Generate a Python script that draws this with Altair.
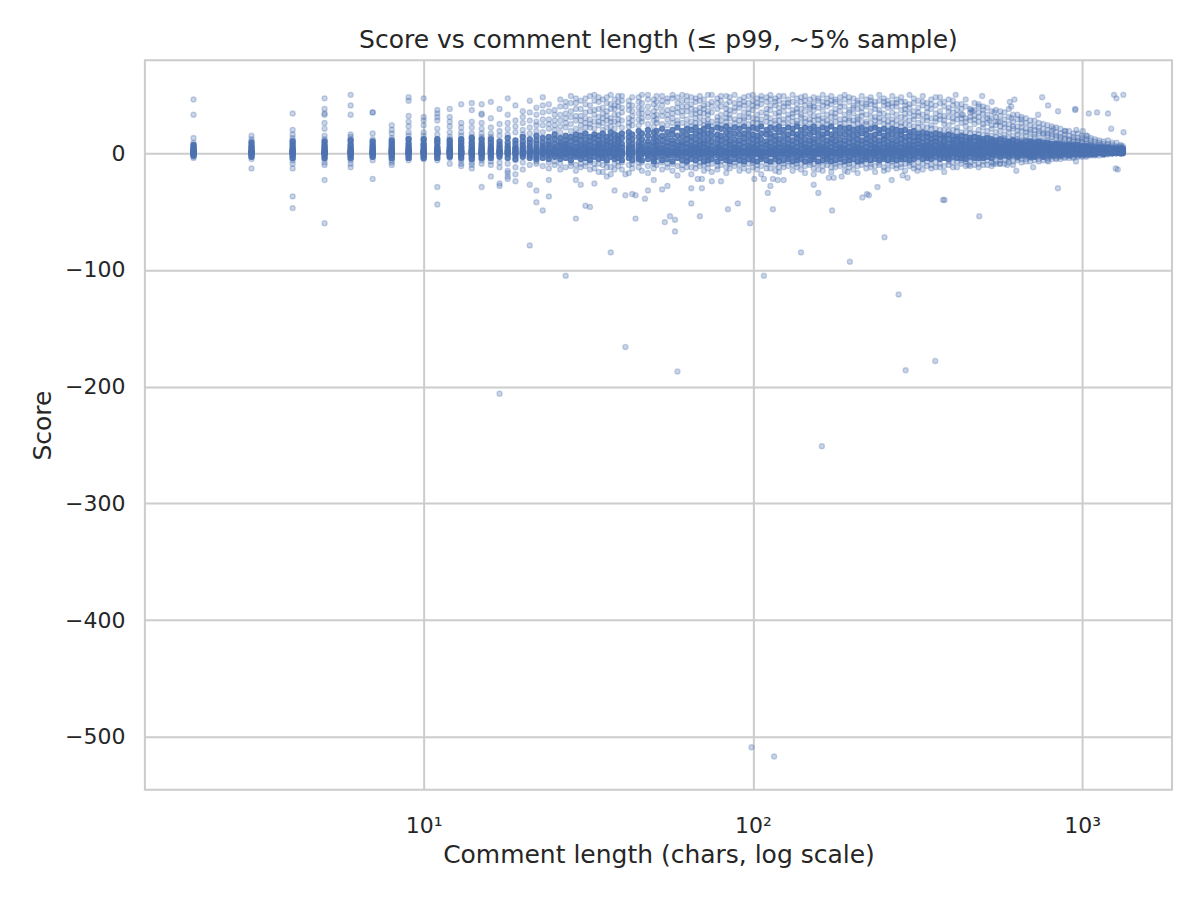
import pandas as pd
import altair as alt

# short comments: one column of scores per length
short_len = [2, 3, 4, 5, 6, 7, 8, 9, 10, 11, 12, 13, 14, 15]
short_core = [
    [7, 5, 3, 2, 1, 1, 0, -1, -2],
    [9, 6, 4, 2, 1, 1, 0, -1, -3],
    [10, 7, 4, 2, 1, 1, 0, -2, -4],
    [10, 7, 5, 3, 1, 1, 0, -1, -4],
    [11, 7, 4, 2, 1, 1, 0, -2, -4],
    [10, 7, 5, 3, 1, 1, 0, -1, -3],
    [11, 8, 5, 3, 2, 1, 0, -2, -4],
    [12, 8, 5, 3, 1, 1, 0, -1, -4],
    [12, 8, 6, 3, 2, 1, 0, -2, -4],
    [12, 9, 5, 3, 1, 1, 0, -1, -4],
    [11, 8, 5, 3, 2, 1, 0, -2, -3],
    [12, 9, 6, 4, 2, 1, 0, -1, -4],
    [13, 9, 6, 3, 2, 1, 0, -2, -5],
    [12, 8, 5, 3, 1, 1, 0, -1, -4],
]
short_scores = [
    [46, 33, 13, 9, 7, 6, 5, 4, 3, 3, 2, 2, 1, 1, 1, 1, 0, 0, -1, -1, -2, -3, -4],
    [15, 12, 10, 8, 6, 5, 4, 3, 2, 2, 1, 1, 1, 1, 0, 0, -1, -2, -3, -5, -13],
    [34, 20, 16, 13, 11, 9, 7, 5, 4, 3, 2, 2, 1, 1, 1, 0, 0, -1, -2, -4, -6, -9, -13, -37, -47],
    [47, 38, 34, 33, 26, 21, 15, 12, 10, 8, 6, 5, 4, 3, 2, 2, 1, 1, 1, 0, 0, -1, -2, -3, -5, -8, -10, -23, -60],
    [50, 41, 33, 16, 14, 12, 10, 8, 6, 5, 4, 3, 2, 2, 1, 1, 1, 0, 0, -1, -2, -4, -6, -9, -12],
    [35, 35, 17, 12, 10, 8, 6, 5, 4, 3, 2, 2, 1, 1, 1, 0, 0, -1, -2, -3, -6, -22],
    [24, 20, 17, 13, 10, 8, 7, 5, 4, 3, 2, 2, 1, 1, 1, 0, 0, -1, -2, -4, -6, -8, -10],
    [48, 45, 32, 27, 23, 18, 15, 12, 10, 8, 6, 5, 4, 3, 2, 2, 1, 1, 1, 0, 0, -1, -2, -3, -4, -6],
    [47, 31, 28, 24, 18, 15, 12, 10, 8, 6, 5, 4, 3, 2, 2, 1, 1, 1, 0, 0, -1, -2, -3, -5],
    [37, 34, 31, 28, 21, 16, 12, 10, 8, 6, 5, 4, 3, 2, 2, 1, 1, 1, 0, 0, -1, -2, -4, -6, -29, -44],
    [38, 31, 27, 23, 18, 14, 12, 10, 8, 6, 5, 4, 3, 2, 2, 1, 1, 1, 0, 0, -1, -2, -4, -9],
    [42, 26, 22, 18, 15, 12, 10, 8, 6, 5, 4, 3, 2, 2, 1, 1, 1, 0, 0, -1, -2, -3, -6, -9, -11],
    [43, 37, 27, 22, 17, 14, 12, 10, 8, 6, 5, 4, 3, 2, 2, 1, 1, 1, 0, 0, -1, -2, -3, -5, -8, -10, -13],
    [42, 34, 33, 26, 21, 17, 14, 11, 9, 7, 6, 5, 4, 3, 2, 2, 1, 1, 1, 0, 0, -1, -2, -4, -6, -9, -29],
]

# longer comments: dense core and the looser spread around it
band_len = [
    16, 17, 18, 19, 20, 21, 22, 23, 24, 25,
    26, 27, 28, 29, 30, 31, 32, 33, 34, 35,
    36, 37, 38, 39, 40, 42, 43, 45, 46, 48,
    50, 51, 53, 55, 57, 59, 61, 63, 65, 67,
    69, 71, 73, 75, 78, 80, 83, 85, 88, 91,
    94, 97, 100, 103, 106, 110, 113, 117, 120, 124,
    128, 132, 136, 140, 144, 149, 153, 158, 163, 168,
    173, 178, 184, 190, 196, 202, 208, 214, 221, 228,
    235, 242, 250, 257, 265, 273, 282, 290, 299, 308,
    318, 328, 338, 348, 359, 370, 381, 393, 405, 417,
    430, 443, 457, 471, 485, 500, 515, 531, 547, 564,
    581, 599, 617, 636, 655, 675, 696, 717, 739, 762,
    785, 809, 834, 859, 886, 913, 941, 970, 1000, 1030,
    1062, 1094, 1128, 1162, 1198, 1234, 1272, 1310, 1330,
]
band_core = [
    [12, 9, 6, 4, 3, 2, 1, 1, 0, -2, -4], [10, 7, 5, 3, 2, 1, 1, 0, -1, -3],
    [13, 9, 6, 4, 2, 2, 1, 0, -1, -4], [11, 8, 5, 4, 3, 1, 1, 0, -2, -5],
    [14, 10, 7, 5, 3, 2, 1, 0, -1, -3], [12, 9, 6, 4, 2, 1, 1, 0, -2, -4],
    [15, 11, 8, 5, 3, 2, 1, 0, -1, -3, -5], [13, 9, 6, 4, 3, 1, 0, -1, -4],
    [14, 10, 7, 5, 2, 1, 1, 0, -2, -5], [16, 12, 8, 5, 3, 2, 1, 0, -1, -3],
    [13, 9, 7, 4, 2, 1, 0, -2, -5], [15, 11, 8, 6, 3, 2, 1, 0, -1, -4],
    [14, 10, 6, 4, 3, 1, 0, -2, -6], [16, 12, 9, 5, 3, 2, 1, 0, -1, -3],
    [15, 11, 7, 5, 2, 1, 0, -2, -5], [17, 12, 8, 6, 3, 2, 1, 0, -1, -4],
    [14, 10, 7, 4, 2, 1, 0, -2, -6], [16, 13, 9, 5, 3, 2, 1, 0, -3],
    [15, 11, 8, 6, 4, 2, 1, 0, -1, -5], [17, 12, 7, 5, 3, 1, 0, -2, -4],
    [14, 10, 8, 4, 2, 1, 0, -1, -6], [18, 13, 9, 6, 3, 2, 1, 0, -3],
    [16, 11, 7, 5, 3, 1, 0, -2, -5], [15, 12, 9, 6, 4, 2, 1, 0, -1, -4],
    [17, 13, 8, 5, 2, 1, 0, -2, -6], [18, 14, 10, 6, 4, 2, 1, 0, -1, -4],
    [16, 12, 8, 5, 3, 1, 0, -2, -6], [19, 14, 9, 6, 3, 2, 1, 0, -3, -5],
    [17, 12, 8, 5, 4, 2, 0, -1, -6], [20, 15, 10, 7, 4, 2, 1, 0, -2, -5],
    [18, 13, 9, 6, 3, 1, 0, -1, -4, -7], [19, 14, 10, 7, 4, 2, 1, 0, -3],
    [21, 15, 11, 7, 4, 2, 1, 0, -2, -6], [18, 13, 9, 6, 3, 1, 0, -1, -5],
    [20, 16, 11, 8, 5, 2, 1, 0, -2, -7], [22, 15, 10, 6, 4, 2, 0, -1, -4],
    [19, 14, 9, 7, 3, 1, 0, -2, -6], [21, 16, 12, 8, 5, 2, 1, 0, -3, -7],
    [20, 14, 10, 6, 4, 2, 0, -1, -5], [22, 17, 12, 8, 5, 3, 1, 0, -2, -6],
    [19, 15, 10, 7, 4, 2, 1, -1, -4], [21, 16, 11, 8, 5, 2, 0, -2, -7],
    [23, 17, 12, 7, 4, 2, 1, 0, -3, -6], [20, 15, 10, 6, 3, 1, 0, -1, -5],
    [22, 16, 12, 8, 5, 3, 1, 0, -2, -7], [21, 15, 11, 7, 4, 2, 0, -1, -4],
    [23, 18, 13, 9, 5, 2, 1, 0, -3, -6], [20, 15, 10, 7, 4, 1, 0, -2, -7],
    [22, 17, 12, 8, 5, 3, 1, 0, -1, -5], [21, 16, 11, 7, 4, 2, 0, -2, -6],
    [23, 17, 13, 9, 5, 2, 1, 0, -3, -7], [20, 15, 10, 6, 4, 2, 0, -1, -5],
    [22, 16, 12, 8, 5, 3, 1, 0, -2, -6], [21, 15, 11, 7, 4, 2, 0, -1, -7],
    [23, 17, 12, 8, 5, 2, 1, 0, -3, -5], [20, 16, 10, 7, 4, 1, 0, -2, -6],
    [22, 17, 13, 9, 5, 3, 1, 0, -1, -7], [21, 15, 11, 7, 4, 2, 0, -2, -5],
    [23, 18, 12, 8, 5, 2, 1, 0, -3, -7], [20, 15, 10, 6, 4, 1, 0, -1, -6],
    [22, 16, 12, 8, 5, 3, 1, 0, -2, -5], [21, 17, 11, 7, 4, 2, 0, -2, -7],
    [23, 16, 13, 9, 5, 2, 1, 0, -3, -6], [20, 15, 10, 7, 4, 1, 0, -1, -5],
    [22, 17, 12, 8, 5, 3, 1, 0, -2, -7], [21, 16, 11, 7, 4, 2, 0, -2, -6],
    [23, 18, 12, 9, 5, 2, 1, 0, -3, -5], [20, 15, 10, 6, 4, 1, 0, -1, -7],
    [22, 16, 13, 8, 5, 3, 1, 0, -2, -6], [21, 17, 11, 7, 4, 2, 0, -2, -5],
    [23, 16, 12, 9, 5, 2, 1, 0, -3, -7], [20, 15, 10, 7, 4, 1, 0, -1, -6],
    [22, 17, 12, 8, 5, 3, 1, 0, -2, -5], [21, 16, 11, 7, 4, 2, 0, -2, -7],
    [22, 18, 13, 9, 5, 2, 1, 0, -3, -6], [20, 15, 10, 6, 4, 1, 0, -1, -5],
    [21, 16, 12, 8, 5, 3, 1, 0, -2, -7], [22, 17, 11, 7, 4, 2, 0, -2, -6],
    [20, 16, 12, 9, 5, 2, 1, 0, -3, -5], [21, 15, 10, 7, 4, 1, 0, -1, -6],
    [22, 16, 12, 8, 5, 3, 1, 0, -2, -5], [20, 17, 11, 7, 4, 2, 0, -2, -6],
    [21, 15, 12, 8, 5, 2, 1, 0, -3, -5], [19, 15, 10, 6, 4, 1, 0, -1, -6],
    [21, 16, 11, 8, 5, 3, 1, 0, -2, -5], [20, 15, 10, 7, 4, 2, 0, -2, -6],
    [19, 16, 12, 8, 5, 2, 1, 0, -3, -5], [20, 14, 10, 6, 4, 1, 0, -1, -5],
    [18, 15, 11, 7, 5, 3, 1, 0, -2, -6], [19, 14, 10, 7, 4, 2, 0, -2, -5],
    [17, 14, 11, 8, 5, 2, 1, 0, -3], [18, 13, 9, 6, 4, 1, 0, -1, -5],
    [17, 14, 10, 7, 5, 3, 1, 0, -2, -4], [16, 12, 9, 6, 4, 2, 0, -2, -5],
    [17, 13, 10, 7, 4, 2, 1, 0, -3], [16, 12, 8, 6, 3, 1, 0, -1, -5],
    [15, 13, 9, 7, 5, 3, 1, 0, -2, -4], [16, 12, 8, 5, 4, 2, 0, -2, -5],
    [15, 11, 9, 6, 4, 2, 1, 0, -3], [14, 12, 8, 6, 3, 1, 0, -1, -4],
    [15, 11, 9, 7, 5, 3, 1, 0, -2, -4], [14, 10, 8, 5, 4, 2, 0, -2, -5],
    [13, 11, 9, 6, 4, 2, 1, 0, -3], [14, 10, 7, 5, 3, 1, 0, -1, -4],
    [13, 11, 8, 6, 4, 3, 1, 0, -2, -4], [12, 10, 7, 5, 4, 2, 0, -2, -4],
    [13, 9, 8, 6, 4, 2, 1, 0, -3], [12, 10, 7, 5, 3, 1, 0, -1, -4],
    [11, 9, 7, 5, 4, 3, 1, 0, -2], [12, 9, 6, 5, 3, 2, 0, -1, -3],
    [11, 8, 7, 5, 4, 2, 1, 0, -2], [10, 9, 6, 4, 3, 1, 0, -1, -3],
    [11, 8, 6, 5, 4, 2, 1, 0, -2], [10, 7, 6, 4, 3, 2, 0, -1, -3],
    [9, 8, 6, 4, 3, 1, 1, 0, -2], [10, 7, 5, 4, 3, 2, 0, -1, -2],
    [10, 8, 6, 4, 3, 1, 1, 0, -2, -3], [9, 8, 5, 4, 3, 2, 0, -1, -3],
    [10, 7, 6, 4, 2, 1, 1, 0, -2], [9, 7, 5, 3, 2, 2, 0, -1, -3],
    [9, 7, 5, 4, 2, 1, 1, 0, -2], [8, 6, 5, 3, 2, 1, 0, -1, -2],
    [8, 7, 5, 3, 2, 1, 1, 0, -2], [8, 6, 4, 3, 2, 1, 0, 0, -2],
    [7, 6, 5, 3, 2, 1, 1, 0, -1], [7, 6, 4, 3, 2, 1, 0, 0, -2],
    [7, 5, 4, 3, 2, 1, 1, 0, -1], [7, 5, 4, 3, 2, 1, 0, 0, -1],
    [6, 5, 4, 3, 2, 1, 1, 0, -1], [6, 5, 3, 2, 2, 1, 0, 0, -1],
    [6, 4, 3, 3, 2, 1, 1, 0, -1], [5, 4, 3, 2, 1, 1, 0, 0, -1],
    [5, 4, 3, 2, 2, 1, 1, 0], [5, 4, 3, 2, 1, 1, 0, 0, -1],
    [5, 4, 3, 2, 2, 1, 1, 0], [4, 4, 3, 2, 1, 1, 0, 0],
    [4, 3, 3, 2, 1, 1, 1, 0], [4, 3, 2, 2, 1, 1, 0, 0],
    [4, 3, 2, 1, 1, 0],
]
band_spread = [
    [44, 30, 22, 17, 14, -7, -10], [38, 25, 19, 15, -8, -12],
    [47, 33, 26, 21, 16, -9], [41, 28, 23, 18, -6, -12],
    [36, 31, 26, 20, 16, -8, -14], [45, 35, 28, 22, 17, -10],
    [39, 33, 27, 24, 19, -7, -9], [48, 41, 35, 29, 24, 18, -11],
    [42, 36, 29, 25, 21, -8, -13], [37, 33, 28, 24, 20, -10, -7],
    [46, 40, 33, 28, 23, 18, -9, -14], [44, 40, 34, 30, 26, 22, -12],
    [49, 43, 36, 31, 25, 19, -8, -11], [47, 43, 38, 32, 28, 21, -10, -15],
    [45, 38, 32, 28, 24, 19, -9, -12], [47, 42, 35, 30, 26, 22, -11, -8],
    [49, 41, 36, 29, 25, 22, -8, -14], [50, 45, 37, 33, 27, 21, -13, -9],
    [48, 44, 38, 31, 27, 24, -9, -16], [46, 39, 34, 30, 26, 20, -10, -16],
    [48, 43, 36, 32, 28, 22, -8, -12], [50, 42, 38, 30, 27, 23, -12, -18],
    [46, 41, 38, 33, 27, 21, -9, -14], [49, 44, 40, 33, 29, 25, -11, -7],
    [49, 45, 39, 35, 28, 22, -8, -14], [45, 41, 37, 30, 26, 23, -10, -17],
    [48, 41, 36, 32, 28, 24, -9, -13], [48, 44, 39, 34, 29, 24, -12, -8],
    [50, 43, 38, 34, 30, 27, -8, -15], [50, 46, 40, 35, 31, 25, -11, -17],
    [46, 42, 36, 32, 28, 23, -9, -13], [49, 44, 39, 33, 29, 26, -10, -7],
    [49, 45, 41, 36, 32, 25, -8, -14], [47, 44, 37, 33, 29, 24, -12, -9],
    [50, 47, 38, 34, 30, 26, -9, -15], [48, 43, 39, 35, 28, 25, -11, -19],
    [50, 45, 40, 36, 32, 26, -10, -14], [49, 45, 40, 36, 29, 24, -8, -12],
    [48, 42, 38, 33, 27, 23, -12, -18], [47, 44, 37, 34, 30, 26, -9, -13],
    [49, 45, 39, 35, 31, 26, -11, -8], [46, 41, 38, 34, 28, 24, -10, -15],
    [50, 42, 36, 33, 29, 25, -13, -9], [50, 44, 40, 35, 27, 23, -9, -16],
    [47, 43, 38, 31, 28, 25, -11, -14], [49, 45, 40, 33, 28, 24, -10, -7],
    [49, 42, 38, 34, 30, 27, -12, -17], [48, 44, 37, 33, 30, 24, -9, -13],
    [50, 43, 39, 36, 29, 26, -11, -8], [46, 42, 39, 32, 28, 24, -10, -15],
    [48, 44, 41, 35, 30, 28, -13, -9], [49, 43, 38, 34, 31, 25, -9, -15],
    [50, 45, 41, 37, 30, 26, -12, -8], [47, 43, 40, 33, 29, 26, -10, -14],
    [49, 46, 42, 35, 29, 25, -11, -18], [48, 44, 38, 34, 31, 27, -9, -13],
    [50, 46, 41, 37, 30, 26, -13, -8], [47, 44, 41, 34, 28, 25, -10, -15],
    [49, 45, 39, 35, 32, 28, -12, -16], [49, 43, 40, 36, 29, 26, -9, -12],
    [46, 43, 40, 33, 30, 25, -11, -7], [50, 44, 37, 34, 31, 27, -10, -15],
    [47, 42, 38, 35, 28, 25, -12, -9], [48, 44, 38, 33, 31, 26, -9, -14],
    [49, 45, 41, 36, 30, 27, -11, -17], [46, 41, 39, 34, 29, 26, -10, -8],
    [48, 43, 40, 37, 32, 28, -13, -9], [47, 45, 39, 32, 29, 25, -9, -14],
    [50, 44, 41, 36, 30, 27, -11, -15], [47, 43, 40, 33, 28, 25, -10, -7],
    [49, 45, 42, 35, 31, 26, -12, -16], [46, 44, 38, 34, 31, 27, -9, -12],
    [48, 43, 40, 36, 29, 25, -11, -8], [50, 46, 40, 33, 29, 26, -10, -15],
    [48, 44, 37, 35, 30, 28, -12, -9], [47, 41, 39, 34, 28, 25, -9, -14],
    [45, 43, 38, 31, 29, 26, -11, -17], [49, 43, 39, 35, 32, 27, -10, -7],
    [46, 42, 40, 33, 27, 25, -13, -9], [48, 45, 42, 36, 31, 26, -9, -12],
    [44, 41, 38, 31, 28, 24, -11, -16], [50, 45, 37, 34, 30, 27, -10, -8],
    [47, 44, 41, 34, 29, 25, -12, -15], [45, 42, 39, 32, 27, 24, -9, -14],
    [49, 43, 40, 35, 29, 26, -11, -7], [46, 43, 40, 33, 28, 24, -10, -13],
    [48, 44, 37, 31, 26, 23, -12, -9], [44, 41, 38, 34, 30, 25, -9, -15],
    [50, 42, 39, 34, 28, 24, -11, -8], [47, 43, 36, 32, 29, 23, -10, -13],
    [45, 39, 35, 32, 26, 22, -12, -8], [49, 44, 41, 33, 28, 23, -9, -14],
    [43, 39, 35, 31, 28, 22, -11, -7], [46, 42, 38, 30, 24, 21, -10, -13],
    [48, 41, 34, 30, 27, 21, -12, -8], [48, 43, 36, 32, 29, 20, -9, -12],
    [44, 40, 32, 28, 25, 20, -11, -16], [46, 39, 36, 31, 24, 19, -10, -7],
    [45, 41, 35, 30, 27, 20, -8, -12], [42, 37, 33, 29, 22, 19, -12, -7],
    [42, 38, 33, 30, 26, 18, -9, -6], [46, 40, 30, 27, 23, 18, -11, -7],
    [38, 35, 31, 28, 21, 17, -8, -11], [43, 37, 32, 29, 25, 17, -10, -6],
    [40, 35, 31, 27, 20, 16, -9, -12], [40, 34, 29, 25, 22, 16, -7, -10],
    [39, 33, 30, 26, 19, 15, -10, -6], [44, 36, 30, 24, 21, 15, -8, -11],
    [37, 31, 27, 24, 18, 14, -7, -9], [36, 32, 27, 23, 19, 14, -9, -6],
    [35, 29, 25, 22, 16, 13, -6, -9], [38, 31, 25, 21, 18, 13, -8, -5],
    [33, 27, 23, 21, 15, 12, -7, -10], [33, 29, 23, 19, 16, 12, -6, -4],
    [31, 26, 22, 19, 14, 11, -8, -5], [30, 26, 21, 18, 15, 11, -5, -7],
    [28, 24, 20, 18, 13, 10, -7, -4], [28, 23, 20, 16, 14, 10, -6, -3],
    [26, 22, 19, 17, 12, 9, -5, -7], [25, 21, 17, 16, 11, 9, -6, -3],
    [24, 20, 17, 15, 11, 8, -4, -6], [23, 19, 16, 14, 10, 8, -5, -3],
    [22, 18, 15, 13, 9, 7, -4, -5], [21, 17, 14, 12, 9, 7, -5, -3],
    [19, 16, 13, 12, 8, 6, -3, -4], [19, 15, 12, 11, 8, 6, -4, -2],
    [17, 14, 12, 10, 7, 5, -3, -4], [17, 13, 11, 10, 7, 5, -3, -2],
    [15, 13, 10, 9, 6, 5, -2, -3], [15, 12, 10, 8, 6, 4, -3, -2],
    [13, 11, 8, 7, 5, 4, -2], [12, 10, 7, 6, 5, 4, -2],
    [11, 9, 7, 6, 5, -2], [10, 8, 6, 5, 4, -1],
    [11, 8, 6, 5, 4, -1], [9, 7, 5, 4, 3],
    [9, 6, 5, 4, 3], [7, 6, 5, 3],
    [6, 4, 3],
]

# isolated points read one by one
outlier_len = [
    17, 21, 27, 37, 41, 29, 44, 23, 22, 24,
    31, 32, 16, 21, 22, 24, 29, 30, 33, 36,
    38, 41, 43, 44, 47, 48, 41, 18, 18, 18,
    18, 19, 19, 17, 17,
    54, 56, 58, 58, 59, 65, 65, 70, 69, 84,
    90, 98, 108, 115, 111, 113, 140, 158, 153, 174,
    197, 162, 277, 291, 358, 251, 215, 222, 225, 239,
    378, 487, 844, 1283, 631, 710, 50, 53, 55, 80,
    75, 70, 68, 153, 170, 176, 186, 194, 264, 285,
    295, 316, 451, 537, 562, 592, 789, 958, 101, 108,
    115, 119, 124, 99, 116,
    1250, 1271, 1334, 1048, 1110, 1198, 1336, 1225, 1265, 953,
    953, 756, 788, 845, 735, 818, 889, 960, 1005, 1035,
    623, 603, 609, 653, 610, 497, 485, 500, 541, 524,
    556, 413, 434, 460, 465, 382,
]
outlier_score = [
    -206, -79, -105, -85, -166, -56, -56, -49, -42, -37,
    -45, -46, -20, -27, -32, -23, -23, -27, -26, -20,
    -32, -36, -35, -36, -39, -32, -18, -15, -17, -20,
    -22, -18, -24, -26, -28,
    -59, -54, -57, -67, -187, -43, -30, -30, -54, -48,
    -43, -60, -105, -48, -34, -28, -85, -34, -27, -49,
    -93, -251, -121, -186, -178, -72, -38, -35, -36, -29,
    -40, -54, -30, -14, -15, -12, -23, -31, -28, -24,
    -24, -22, -22, -18, -21, -21, -20, -16, -23, -19,
    -21, -15, -10, -9, -9, -10, -7, -7, -22, -22,
    -22, -23, -23, -509, -517,
    50, 47, 50, 34, 35, 34, 18, 21, -13, 38,
    37, 48, 41, 36, 33, 21, 19, 20, 19, 15,
    46, 44, 40, 29, 30, 49, 42, 37, 35, 28,
    27, 50, 33, 37, 36, -40,
]

assert len(short_len) == len(short_core) == len(short_scores)
assert len(band_len) == len(band_core) == len(band_spread)
assert len(outlier_len) == len(outlier_score)

sparse_rows = []
for n, scores in zip(short_len, short_scores):
    sparse_rows += [(n, s) for s in scores]
for n, scores in zip(band_len, band_spread):
    sparse_rows += [(n, s) for s in scores]
sparse_rows += list(zip(outlier_len, outlier_score))
core_rows = []
for n, scores in zip(short_len, short_core):
    core_rows += [(n, s) for s in scores]
for n, scores in zip(band_len, band_core):
    core_rows += [(n, s) for s in scores]

sparse = pd.DataFrame(sparse_rows, columns=['length', 'score'])
core = pd.DataFrame(core_rows, columns=['length', 'score'])

blue = '#4c72b0'
font = 'DejaVu Sans'
ink = '#262626'

x = alt.X('length:Q',
          scale=alt.Scale(type='log', domain=[1.423, 1875], nice=False),
          axis=alt.Axis(values=[10, 100, 1000],
                        labelExpr="datum.value == 10 ? '10¹' : datum.value == 100 ? '10²' : '10³'",
                        title='Comment length (chars, log scale)',
                        labelPadding=26, titlePadding=6))
y = alt.Y('score:Q',
          scale=alt.Scale(domain=[-545.4, 79.6], nice=False, zero=False),
          axis=alt.Axis(values=[-500, -400, -300, -200, -100, 0],
                        title='Score', labelPadding=20, titlePadding=9))

def dots(df, alpha):
    return alt.Chart(df).mark_point(
        filled=True, shape='circle', size=26, color=blue,
        fillOpacity=alpha, strokeOpacity=alpha, strokeWidth=1.3, stroke=blue,
    ).encode(x=x, y=y)

chart = (dots(sparse, 0.3) + dots(core, 0.85)).properties(
    width=1028, height=730,
    title=alt.TitleParams('Score vs comment length (≤ p99, ~5% sample)',
                          fontSize=25, font=font, color=ink,
                          fontWeight='normal', offset=7),
    padding={'left': 137, 'top': 52, 'right': 20, 'bottom': 100},
    autosize=alt.AutoSizeParams(type='none'),
).configure_axis(
    grid=True, gridColor='#cccccc', gridWidth=2,
    domain=False, ticks=False, tickSize=0,
    labelFont=font, labelFontSize=22, labelColor=ink,
    titleFont=font, titleFontSize=25, titleColor=ink, titleFontWeight='normal',
).configure_view(
    stroke='#cccccc', strokeWidth=2,
)

chart.save('out.html', embed_options={'renderer': 'svg', 'actions': False})
